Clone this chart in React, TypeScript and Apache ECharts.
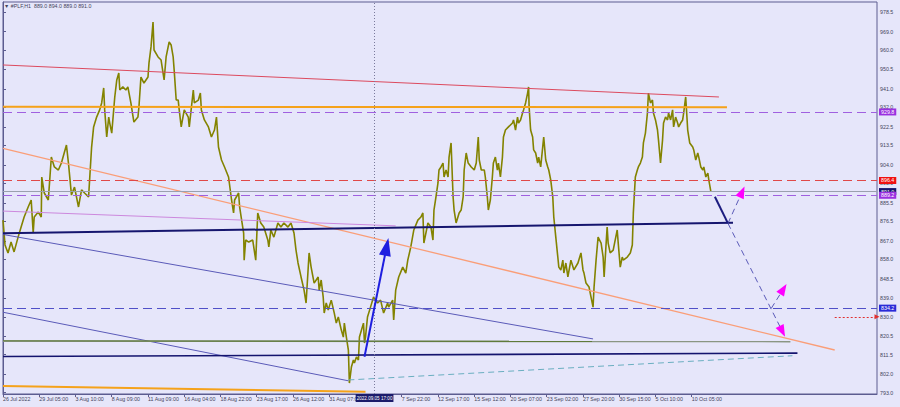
import React, { useEffect, useRef } from "react";
import * as echarts from "echarts";

// ---------- data ----------
const symbolName = "#PLF,H1";
const lastBar = [889.0, 894.0, 889.0, 891.0]; // open high low close

const xLabels = [
  "26 Jul 2022", "29 Jul 05:00", "3 Aug 10:00", "8 Aug 09:00", "11 Aug 09:00",
  "16 Aug 04:00", "18 Aug 22:00", "23 Aug 17:00", "26 Aug 12:00", "31 Aug 07:00",
  "", "7 Sep 22:00", "12 Sep 17:00", "15 Sep 12:00", "20 Sep 07:00",
  "23 Sep 02:00", "27 Sep 20:00", "30 Sep 15:00", "5 Oct 10:00", "10 Oct 05:00",
];
const yTicks = [
  793.0, 802.0, 811.5, 820.5, 830.0, 839.0, 848.5, 858.0, 867.0, 876.5, 885.5,
  895.0, 904.0, 913.5, 922.5, 932.0, 941.0, 950.5, 960.0, 969.0, 978.5,
];

const priceX = [
  0, 2, 5, 8, 11, 15, 18, 21, 25, 28, 30, 31, 35, 38, 38.5, 41, 45, 48, 51, 55,
  58, 63, 65, 68, 71, 75, 78, 81, 85, 86, 88, 90, 93, 96, 98, 100, 101, 103, 105, 106,
  108, 111, 113, 115, 116, 119, 122, 124, 127, 130, 134, 135, 137, 140, 144, 145, 147, 149, 150, 154,
  157, 160, 162, 165, 167, 169, 170, 172, 174, 175, 177, 180, 184, 185, 189, 190, 194, 196, 197, 200,
  204, 207, 210, 212, 214, 217, 220, 224, 227, 229, 230, 234, 235, 237, 239, 239.5, 241, 244, 248, 251,
  253, 256, 259, 263, 264, 266, 269, 273, 276, 279, 283, 286, 289, 291, 293, 296, 299, 301, 304, 306,
  309, 313, 314, 316, 318, 319, 321, 323, 326, 329, 331, 333, 336, 338, 339, 341, 343, 344, 346, 348,
  349, 351, 353, 354, 358, 359, 360, 362, 365, 368, 372, 375, 378, 382, 383, 387, 388, 390, 393, 397,
  400, 402, 405, 408, 412, 415, 417, 418, 422, 425, 427, 428, 430, 432, 433, 435, 437, 438, 440, 442,
  443, 445, 447, 448, 450, 453, 455, 457, 458, 460, 462, 465, 468, 470, 472, 473, 475, 478, 479, 481,
  482, 484, 486, 487, 489, 491, 492, 494, 496, 497, 499, 502, 506, 507, 509, 511, 512, 514, 516, 517,
  519, 521, 522, 522.5, 524, 526, 527, 529, 531, 532, 534, 536, 537, 539, 541, 542, 544, 546, 547, 549,
  551, 552, 554, 556, 557, 559, 561, 564, 567, 571, 574, 576, 577, 579, 582, 584, 586, 587, 589, 591,
  594, 596, 597, 599, 600, 601, 603, 606, 610, 611, 613, 615, 616, 620, 623, 625, 626, 628, 630, 631,
  633, 635, 636, 638, 640, 641, 643, 645, 646, 648, 650, 651, 653, 655, 656, 658, 660, 661, 663, 665,
  666, 668, 670, 671, 673, 675, 676, 678, 679, 680, 682, 685, 686, 688, 690, 691, 693, 695, 696, 698,
  700, 701, 703,
];
const priceClose = [
  877.1, 865.0, 861.1, 866.4, 861.6, 868.8, 873.7, 878.6, 883.5, 886.9, 870.8, 878.6, 881.0, 878.6, 898.1, 890.3, 886.9, 907.8, 903.0, 901.5,
  904.9, 913.7, 904.9, 889.3, 893.2, 883.5, 891.8, 890.3, 888.4, 896.6, 912.7, 922.5, 927.3, 930.8, 934.2, 941.5, 930.8, 917.6, 927.3, 924.4,
  919.5, 937.1, 945.4, 948.8, 940.5, 942.0, 940.5, 942.0, 934.2, 924.9, 927.3, 932.2, 946.8, 943.9, 946.8, 953.7, 961.5, 973.6, 960.0, 956.6,
  955.1, 945.4, 956.6, 963.9, 962.4, 956.6, 950.2, 935.6, 935.6, 930.8, 922.5, 930.8, 927.3, 922.5, 940.5, 934.2, 935.6, 939.0, 930.8, 925.9,
  922.5, 917.6, 921.0, 927.3, 912.7, 906.4, 903.0, 898.1, 886.9, 880.6, 886.9, 890.3, 883.5, 877.1, 870.8, 857.6, 867.4, 866.4, 867.4, 857.6,
  880.6, 875.7, 873.7, 867.4, 864.0, 872.3, 868.8, 875.7, 873.7, 875.7, 873.7, 875.7, 870.8, 862.5, 856.2, 849.4, 843.0, 836.7, 861.1, 854.2,
  846.4, 849.4, 843.0, 847.9, 839.6, 831.8, 836.7, 833.3, 838.1, 831.8, 826.9, 829.9, 823.5, 820.1, 826.9, 820.1, 813.8, 797.7, 805.5, 808.9,
  807.5, 810.4, 808.9, 820.1, 826.9, 817.2, 820.1, 829.9, 834.7, 839.6, 836.7, 838.1, 831.8, 836.7, 834.7, 838.1, 828.4, 843.0, 849.4, 854.2,
  851.3, 857.6, 864.0, 872.3, 877.1, 878.6, 880.6, 865.9, 875.7, 873.7, 867.4, 882.0, 888.4, 895.2, 901.5, 903.0, 904.9, 898.1, 901.5, 898.1,
  907.8, 914.7, 888.4, 882.0, 875.7, 880.6, 882.0, 888.4, 901.5, 909.8, 904.9, 903.0, 901.5, 904.9, 917.6, 906.4, 901.5, 901.5, 898.1, 888.4,
  882.0, 886.9, 898.1, 904.9, 907.8, 901.5, 904.9, 898.1, 907.8, 917.6, 921.0, 922.5, 924.4, 925.9, 921.0, 927.3, 924.4, 925.9, 929.3, 930.8,
  934.2, 939.0, 942.0, 932.2, 921.0, 917.6, 911.3, 909.8, 904.9, 907.8, 903.0, 912.7, 917.6, 906.4, 903.0, 901.5, 896.6, 888.4, 878.6, 868.8,
  859.1, 854.2, 852.8, 857.6, 851.3, 856.2, 849.4, 857.6, 852.8, 856.2, 861.1, 852.8, 851.3, 846.4, 844.5, 839.6, 834.7, 844.5, 857.6, 868.8,
  865.9, 859.1, 849.4, 865.9, 873.7, 865.9, 861.1, 862.5, 872.3, 865.9, 854.2, 859.1, 857.6, 859.1, 861.1, 865.0, 880.6, 898.1, 901.5, 903.0,
  904.9, 907.8, 914.7, 919.5, 929.3, 939.0, 934.2, 935.6, 929.3, 925.9, 921.0, 916.1, 904.9, 916.1, 924.4, 927.3, 925.9, 929.3, 925.9, 930.8,
  922.5, 927.3, 924.4, 922.5, 924.4, 925.9, 929.3, 937.1, 929.3, 921.0, 914.7, 912.7, 911.3, 906.4, 909.8, 907.8, 903.0, 901.5, 903.0, 898.1,
  900.0, 896.6, 891.0,
];

// price levels (horizontal lines)
const levelPurpleHigh = 929.8;
const levelRed = 896.4;
const levelBid = 891.0;
const levelPurpleLow = 889.2;
const levelBlue = 834.2;
const alertLine = [[826, 830.0], [868, 830.0]];
const crosshairX = 369;
const crosshairLabel = "2022.09.05 17:00";

// trend lines [x, price]
const redResistance = [[0, 952.7], [711, 937.1]];
const orangeLevel = [[0, 932.3], [719, 932.1]];
const salmonTrend = [[0, 912.1], [826, 813.8]];
const plumTrend = [[0, 881.5], [390, 874.3]];
const navyTrend = [[0, 870.7], [725, 875.8]];
const slateTrendUpper = [[0, 870.1], [586, 819.2]];
const slateTrendLower = [[0, 832.2], [343, 798.8]];
const grayBase = [[0, 818.1], [782, 817.9]];
const oliveBase = [[0, 818.3], [585, 818.0]];
const navyBase = [[0, 810.6], [789, 812.3]];
const orangeBottom = [[0, 796.3], [360, 793.5]];
const tealDashed = [[343, 799.2], [784, 811.0]];
const blueArrow = [[359, 810.5], [381, 864.1]];
const navyProjection = [[707, 888.5], [720, 875.5]];
const dashedUpA = [[720, 875.5], [734, 890.8]];
const dashedDown = [[720, 875.5], [774, 822.9]];
const dashedUpB = [[763, 834.1], [775, 843.5]];

// ---------- styling ----------
const BG = "#E6E6FA";
const FRAME = "#5c5c90";
const TXT = "#44445a";
const FONT = "'Liberation Sans', Arial, sans-serif";
const FS = 5.3;
const X_STEP = 36;
const X_MAX = 868;
const Y_MIN = 792.36;
const Y_MAX = 983.38;

const seg = (pts: number[][], color: string, width: number, type: any = "solid", z = 3) => ({
  type: "line",
  data: pts,
  showSymbol: false,
  symbol: "none",
  silent: true,
  z,
  lineStyle: { color, width, type },
});

const boxLabel = (bg: string) => ({
  show: true,
  position: "end",
  distance: 2,
  formatter: (p: any) => Number(p.value).toFixed(1),
  backgroundColor: bg,
  color: "#ffffff",
  fontSize: FS,
  fontFamily: FONT,
  padding: [1, 2, 0, 2],
  lineHeight: 6,
});

const level = (v: number, color: string, type: any, bg: string) => ({
  yAxis: v,
  lineStyle: { color, type, width: 1 },
  label: boxLabel(bg),
});

const head = (pts: number[][], color: string, size: number[], width = 0) => {
  const ls = { color, width, type: "solid" };
  return [
    { coord: pts[0], symbol: "none", lineStyle: ls },
    { coord: pts[1], symbol: "triangle", symbolSize: size, lineStyle: ls },
  ];
};

export default function App() {
  const ref = useRef<HTMLDivElement>(null);
  useEffect(() => {
    if (!ref.current) return;
    const chart = echarts.init(ref.current, null, { renderer: "svg" });
    const xTickValues = xLabels.map((_, i) => i * X_STEP);
    const option: any = {
      animation: false,
      backgroundColor: BG,
      textStyle: { fontFamily: FONT },
      title: {
        text: `\u25BC ${symbolName}  ${lastBar.map((v) => v.toFixed(1)).join(" ")}`,
        left: 4,
        top: 3,
        padding: 0,
        textStyle: { fontSize: FS, fontWeight: "normal", color: TXT, fontFamily: FONT },
      },
      grid: {
        left: 2,
        right: 23,
        top: 2,
        bottom: 13,
        show: true,
        borderColor: FRAME,
        borderWidth: 1,
        backgroundColor: BG,
      },
      xAxis: {
        type: "value",
        min: 0,
        max: X_MAX,
        axisLine: { show: true, lineStyle: { color: FRAME } },
        axisTick: { show: true, length: 3, customValues: xTickValues, lineStyle: { color: FRAME } },
        axisLabel: {
          customValues: xTickValues,
          formatter: (v: number) => xLabels[Math.round(v / X_STEP)] ?? "",
          align: "left",
          fontSize: FS,
          fontFamily: FONT,
          color: TXT,
          margin: 2,
        },
        splitLine: { show: false },
      },
      yAxis: {
        type: "value",
        position: "right",
        min: Y_MIN,
        max: Y_MAX,
        axisLine: { show: true, lineStyle: { color: FRAME } },
        axisTick: { show: true, length: 3, customValues: yTicks, lineStyle: { color: FRAME } },
        axisLabel: {
          customValues: yTicks,
          formatter: (v: number) => v.toFixed(1),
          fontSize: FS,
          fontFamily: FONT,
          color: TXT,
          margin: 3,
        },
        splitLine: { show: false },
      },
      series: [
        {
          type: "line",
          data: priceX.map((x, i) => [x, priceClose[i]]),
          showSymbol: false,
          symbol: "none",
          silent: true,
          z: 2,
          lineStyle: { color: "#838300", width: 1.6 },
          markLine: {
            silent: true,
            symbol: ["none", "none"],
            label: { show: false },
            data: [
              level(levelPurpleHigh, "#a060e0", [9, 5], "#9a30e0"),
              level(levelRed, "#e04848", [9, 5], "#f01010"),
              { yAxis: levelBid, lineStyle: { color: "#9aa0ae", type: "solid", width: 1 }, label: boxLabel("#16166e") },
              level(levelPurpleLow, "#a060e0", [9, 5], "#9a30e0"),
              level(levelBlue, "#5050c8", [9, 5], "#2a2ad8"),
              [
                { coord: alertLine[0], symbol: "none", lineStyle: { color: "#e03030", type: [2, 2], width: 1 } },
                { coord: alertLine[1], symbol: "triangle", symbolSize: 5, lineStyle: { color: "#e03030", type: [2, 2], width: 1 } },
              ],
              {
                xAxis: crosshairX,
                lineStyle: { color: "#7a7a9c", type: [1, 2], width: 1 },
                label: {
                  show: true,
                  position: "start",
                  distance: 0,
                  formatter: crosshairLabel,
                  backgroundColor: "#1b1b6b",
                  color: "#ffffff",
                  fontSize: 4.6,
                  fontFamily: FONT,
                  padding: [2, 1, 1, 1],
                },
              },
            ],
          },
        },
        seg(redResistance, "#dc4a5e", 1),
        seg(orangeLevel, "#f5a21a", 2),
        seg(salmonTrend, "#fa9e78", 1.3),
        seg(plumTrend, "#cc88dd", 1),
        seg(slateTrendUpper, "#5a5ab8", 1),
        seg(slateTrendLower, "#5a5ab8", 1),
        seg(grayBase, "#8a9683", 1.6),
        seg(oliveBase, "#5f7a3a", 1.2),
        seg(navyBase, "#14146e", 1.6),
        seg(orangeBottom, "#f5a21a", 2),
        seg(tealDashed, "#6aaec0", 1, [6, 4]),
        seg(navyTrend, "#16166e", 2),
        seg(dashedUpA, "#5a5ab8", 1, [6, 4]),
        seg(dashedDown, "#5a5ab8", 1, [6, 4]),
        seg(dashedUpB, "#5a5ab8", 1, [6, 4]),
        {
          ...seg(navyProjection, "#1c1c80", 2, "solid", 4),
          markLine: {
            silent: true,
            symbol: ["none", "none"],
            label: { show: false },
            data: [
              head(blueArrow, "#1e1ee0", [12, 18], 2),
              head(dashedUpA, "#ff00ff", [9, 12]),
              head(dashedDown, "#ff00ff", [9, 12]),
              head(dashedUpB, "#ff00ff", [9, 12]),
            ],
          },
        },
      ],
    };
    chart.setOption(option);
    return () => chart.dispose();
  }, []);
  return (
    <div
      ref={ref}
      style={{ position: "fixed", left: 0, top: 0, width: 900, height: 407, background: BG }}
    />
  );
}
